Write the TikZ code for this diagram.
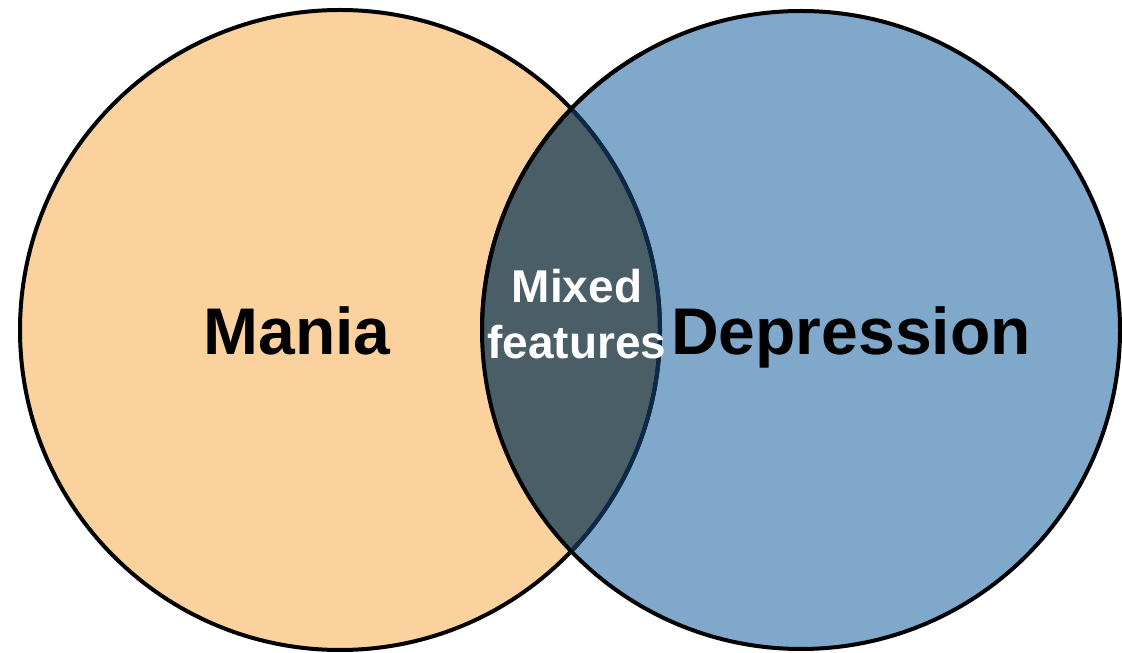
\documentclass[tikz,border=0pt]{standalone}
\usepackage{fontspec}
\setmainfont{Liberation Sans}
\definecolor{maniaC}{HTML}{FBD29E}
\definecolor{depC}{HTML}{7FA8CB}
\definecolor{mixC}{HTML}{495E66}
\definecolor{navyC}{HTML}{0B2A4A}
\tikzset{
  ring/.style={line width=4pt},
  bigword/.style={font=\fontsize{66}{70}\selectfont\bfseries, text=black, inner sep=0pt},
  midword/.style={font=\fontsize{46}{56}\selectfont\bfseries, text=white, align=center, inner sep=0pt}
}
\begin{document}
\begin{tikzpicture}[x=1pt,y=1pt]
\useasboundingbox (0,0) rectangle (1122,653);
\coordinate (L) at (340,323);
\coordinate (R) at (801,323);
\fill[maniaC] (L) circle (320);
\fill[depC] (R) circle (319);
\begin{scope}
  \clip (L) circle (320);
  \fill[mixC] (R) circle (319);
\end{scope}
\draw[ring] (L) circle (320);
\draw[ring] (R) circle (319);
\begin{scope}
  \clip (R) circle (317);
  \draw[ring, navyC] (L) circle (320);
\end{scope}
\draw[ring] (R) ++(180:319) arc (180:120:319);
\node[bigword, anchor=base] (mania) at (297,298) {Mania};
\node[bigword, anchor=base] (dep) at (851,298) {Depression};
\node[midword] (mix) at (577,339) {Mixed\\features};
\end{tikzpicture}
\end{document}
